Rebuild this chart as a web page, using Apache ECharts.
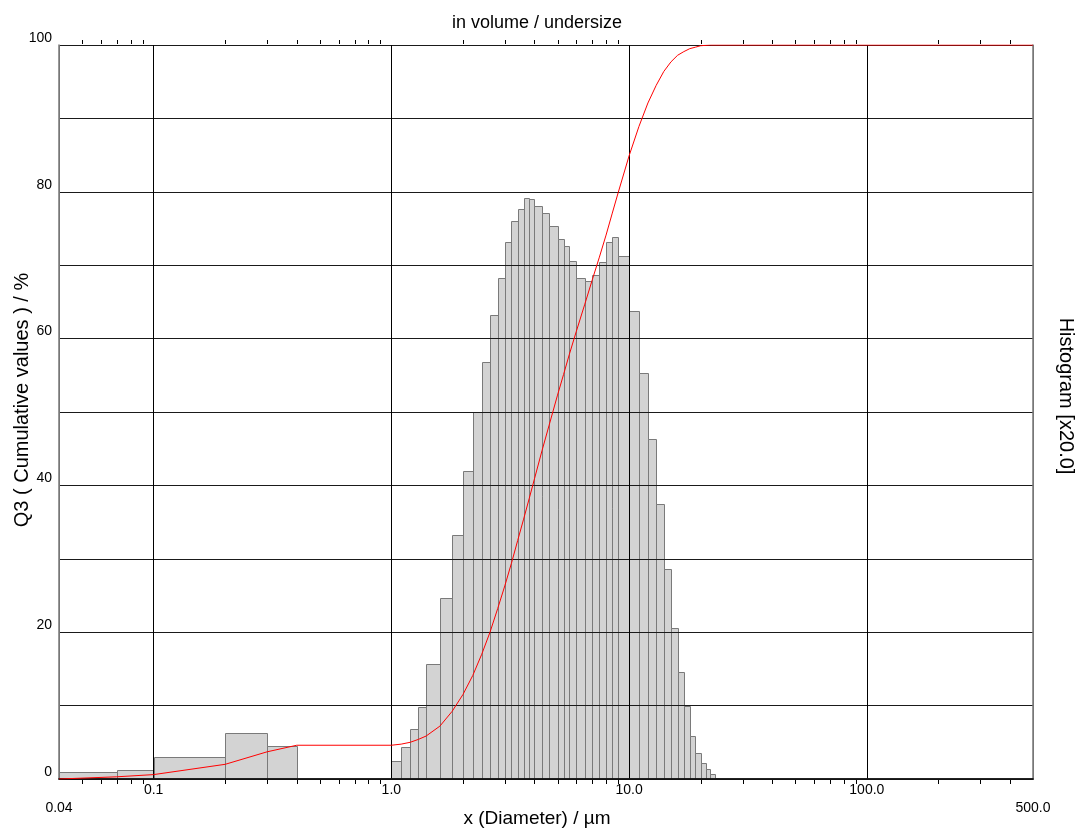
<!DOCTYPE html>
<html>
<head>
<meta charset="utf-8">
<script src="https://cdn.jsdelivr.net/npm/echarts@6/dist/echarts.min.js"></script>
<style>
html,body{margin:0;padding:0;background:#fff;}
#chart{width:1087px;height:840px;}
</style>
</head>
<body>
<div id="chart"></div>
<script>
// Histogram class edges (µm) and bar heights (displayed scale, 0-100)
const binEdges = [0.04,0.07,0.1,0.2,0.3,0.4,1.0,1.1,1.2,1.3,1.4,1.6,1.8,2.0,2.2,2.4,2.6,2.8,3.0,
  3.2,3.4,3.6,3.8,4.0,4.3,4.6,5.0,5.3,5.6,6.0,6.5,7.0,7.5,8.0,8.5,9.0,10,
  11,12,13,14,15,16,17,18,19,20,21,22,23,24,500];
const binHeights = [0.9,1.2,2.95,6.3,4.5,0,
  2.4,4.3,6.8,9.8,15.7,24.7,33.3,41.9,50.0,56.8,63.2,68.3,
  73.1,76.0,77.7,79.2,79.0,78.1,77.1,75.3,
  73.6,72.6,70.6,68.3,67.9,68.6,70.5,73.2,73.8,71.2,
  63.7,55.3,46.3,37.4,28.6,20.6,14.6,9.9,5.8,3.6,2.2,1.3,0.7,0.2,0];

// Cumulative Q3 curve (%)
const cumX  = [0.04,0.07,0.1,0.2,0.3,0.4,1.0,1.1,1.2,1.3,1.4,1.6,1.8,2.0,2.2,2.4,2.6,2.8,3.0,
  3.2,3.4,3.6,3.8,4.0,4.3,4.6,5.0,5.3,5.6,6.0,6.5,7.0,7.5,8.0,8.5,9.0,10,
  11,12,13,14,15,16,17,18,19,20,22,500];
const cumQ3 = [0,0.3,0.6,2.0,3.7,4.6,4.6,4.75,5.0,5.4,5.85,7.2,9.2,11.5,14.1,17.0,20.0,23.2,26.3,
  29.4,32.5,35.4,38.2,40.9,44.7,48.1,52.3,55.1,57.8,61.0,64.6,68.0,71.1,74.1,77.1,79.9,84.9,
  88.9,92.1,94.5,96.4,97.7,98.6,99.1,99.5,99.7,99.9,100,100];

// Minor log ticks on top and bottom edges
const minorTicks = [0.05,0.06,0.07,0.08,0.09,0.2,0.3,0.4,0.5,0.6,0.7,0.8,0.9,
  2,3,4,5,6,7,8,9,20,30,40,50,60,70,80,90,200,300,400];

const FONT = "'Liberation Sans', Arial, sans-serif";
const chart = echarts.init(document.getElementById('chart'), null, {renderer:'canvas'});

const histData = binHeights.map((h,i)=>[binEdges[i], binEdges[i+1], h]);
const cumData = cumX.map((x,i)=>[x, cumQ3[i]]);
const tickData = minorTicks.map(v=>[v, 50]);

function crisp(v){ return Math.round(v) + 0.5; }

const option = {
  animation: false,
  backgroundColor: '#fff',
  title: {
    text: 'in volume / undersize',
    left: 532, top: 9, textAlign: 'center',
    textStyle: {fontFamily: FONT, fontSize: 18, fontWeight: 'normal', color: '#000'}
  },
  grid: {left: 59, right: 54, top: 45, bottom: 61, containLabel: false},
  xAxis: [{
    type: 'log', logBase: 10, min: 0.04, max: 500, position: 'bottom', zlevel: 1,
    axisLine: {show: true, lineStyle: {color: '#666', width: 1.5}},
    axisTick: {show: false},
    splitLine: {show: true, lineStyle: {color: ['#777','#000','#000','#000','#000','#777'], width: 1}},
    axisLabel: {
      show: true, showMinLabel: true, showMaxLabel: true, margin: 2,
      fontFamily: FONT, fontSize: 14, color: '#000', lineHeight: 18,
      formatter: function(v){
        if (v < 0.05) return '\n0.04';
        if (v < 0.5) return '0.1';
        if (v > 400) return '\n500.0';
        return Math.round(v).toFixed(1);
      }
    }
  },{
    type: 'log', logBase: 10, min: 0.04, max: 500, position: 'top', zlevel: 1,
    axisLine: {show: true, lineStyle: {color: '#000', width: 1.5}},
    axisTick: {show: false}, axisLabel: {show: false}, splitLine: {show: false}
  }],
  yAxis: [{
    type: 'value', min: 0, max: 100, interval: 10, zlevel: 1,
    axisLine: {show: true, lineStyle: {color: '#777', width: 1.5}},
    axisTick: {show: false},
    splitLine: {show: true, lineStyle: {color: '#1a1a1a', width: 1}},
    axisLabel: {
      margin: 7, verticalAlign: 'bottom', fontFamily: FONT, fontSize: 14, color: '#000',
      formatter: function(v){ return (v % 20 === 0) ? String(v) : ''; }
    }
  },{
    type: 'value', min: 0, max: 100, interval: 10, position: 'right', zlevel: 1,
    axisLine: {show: true, lineStyle: {color: '#777', width: 1.5}},
    axisTick: {show: false}, axisLabel: {show: false}, splitLine: {show: false}
  }],
  graphic: [
    {type: 'text', x: 537, y: 819, style: {text: 'x (Diameter) / µm', font: '19px ' + FONT, fill: '#000', textAlign: 'center', textVerticalAlign: 'middle'}},
    {type: 'text', x: 22, y: 400, rotation: Math.PI/2, style: {text: 'Q3 ( Cumulative values ) / %', font: '20px ' + FONT, fill: '#000', textAlign: 'center', textVerticalAlign: 'middle'}},
    {type: 'text', x: 1066, y: 396, rotation: -Math.PI/2, style: {text: 'Histogram [x20.0]', font: '20px ' + FONT, fill: '#000', textAlign: 'center', textVerticalAlign: 'middle'}}
  ],
  series: [{
    type: 'custom', name: 'histogram', zlevel: 0, z: 1, silent: true,
    xAxisIndex: 0, yAxisIndex: 0,
    data: histData,
    encode: {x: [0,1], y: 2},
    renderItem: function(params, api){
      const p0 = api.coord([api.value(0), 0]);
      const p1 = api.coord([api.value(1), api.value(2)]);
      const x0 = crisp(p0[0]), x1 = crisp(p1[0]);
      const yb = crisp(p0[1]), yt = crisp(p1[1]);
      return {type: 'rect', shape: {x: x0, y: yt, width: x1 - x0, height: yb - yt},
        style: {fill: '#d3d3d3', stroke: '#7a7a7a', lineWidth: 1}};
    }
  },{
    type: 'line', name: 'Q3', zlevel: 2, z: 6, silent: true,
    xAxisIndex: 0, yAxisIndex: 0,
    data: cumData, symbol: 'none',
    lineStyle: {color: '#ff0000', width: 1}
  },{
    type: 'custom', name: 'ticks', zlevel: 2, z: 6, silent: true, clip: false,
    xAxisIndex: 0, yAxisIndex: 0,
    data: tickData, encode: {x: 0, y: 1},
    renderItem: function(params, api){
      const t = api.coord([api.value(0), 100]);
      const b = api.coord([api.value(0), 0]);
      const x = crisp(t[0]);
      return {type: 'group', children: [
        {type: 'line', shape: {x1: x, y1: t[1] - 1, x2: x, y2: t[1] - 5}, style: {stroke: '#000', lineWidth: 1}},
        {type: 'line', shape: {x1: x, y1: b[1] + 1, x2: x, y2: b[1] + 5}, style: {stroke: '#000', lineWidth: 1}}
      ]};
    }
  }]
};
chart.setOption(option);
</script>
</body>
</html>
